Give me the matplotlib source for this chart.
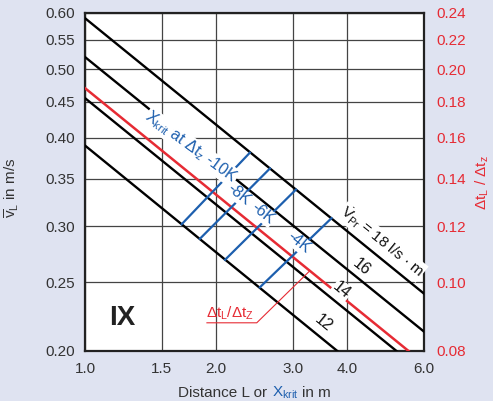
import math
import matplotlib
matplotlib.use("Agg")
import matplotlib.pyplot as plt
from matplotlib.ticker import FixedLocator, NullLocator, FormatStrFormatter

# flow-rate lines (l/s·m), v_L read at L = 1.0 m and L = 6.0 m
flow_labels = ["12", "14", "16", "18"]
v_at_1m = [0.39, 0.455, 0.52, 0.59]
v_at_6m = [0.159, 0.186, 0.213, 0.241]
line_L = [1.0, 6.0]

# red dt_L / dt_z line, same L ends
ratio_v = [0.47, 0.192]

# X_krit isolines: lower end on the 12 line, upper end on the 18 line
krit_labels = ["-10K", "-8K", "-6K", "-4K"]
krit_L_low = [1.667, 1.835, 2.096, 2.52]
krit_v_low = [0.302, 0.288, 0.269, 0.246]
krit_L_high = [2.39, 2.658, 3.05, 3.68]
krit_v_high = [0.381, 0.362, 0.338, 0.308]

x_ticks = [1.0, 1.5, 2.0, 3.0, 4.0, 6.0]
y_ticks = [0.20, 0.25, 0.30, 0.35, 0.40, 0.45, 0.50, 0.55, 0.60]
y2_ticks = [0.08, 0.10, 0.12, 0.14, 0.16, 0.18, 0.20, 0.22, 0.24]

BLUE = "#1d5fae"
RED = "#e62b34"
BG = "#dfe3f1"
INK = "#333333"

plt.rcParams["font.family"] = ["Liberation Sans", "DejaVu Sans"]
plt.rcParams["mathtext.default"] = "regular"

W, H = 493, 401
fig = plt.figure(figsize=(W / 100, H / 100), dpi=100, facecolor=BG)
ax = fig.add_axes([85 / W, 50 / H, 339 / W, 338 / H])
ax.set_xscale("log")
ax.set_yscale("log")
ax.set_xlim(1.0, 6.0)
ax.set_ylim(0.2, 0.6)

ax.xaxis.set_major_locator(FixedLocator(x_ticks))
ax.xaxis.set_minor_locator(NullLocator())
ax.xaxis.set_major_formatter(FormatStrFormatter("%.1f"))
ax.yaxis.set_major_locator(FixedLocator(y_ticks))
ax.yaxis.set_minor_locator(NullLocator())
ax.yaxis.set_major_formatter(FormatStrFormatter("%.2f"))
ax.tick_params(axis="both", length=0, labelsize=11, labelcolor=INK)
ax.tick_params(axis="x", pad=8)
ax.tick_params(axis="y", pad=7)
ax.grid(True, color="#444444", lw=0.9)
ax.set_axisbelow(True)
for sp in ax.spines.values():
    sp.set_linewidth(1.6)
    sp.set_color("#222222")

ax2 = ax.twinx()
ax2.set_yscale("log")
ax2.set_ylim(0.08, 0.24)
ax2.yaxis.set_major_locator(FixedLocator(y2_ticks))
ax2.yaxis.set_minor_locator(NullLocator())
ax2.yaxis.set_major_formatter(FormatStrFormatter("%.2f"))
ax2.tick_params(axis="y", length=0, labelsize=11, labelcolor=RED, pad=9)
for sp in ax2.spines.values():
    sp.set_visible(False)

for v1, v6 in zip(v_at_1m, v_at_6m):
    ax.plot(line_L, [v1, v6], color="black", lw=1.7, zorder=3)
ax.plot(line_L, ratio_v, color=RED, lw=1.8, zorder=3)
for xl, yl, xh, yh in zip(krit_L_low, krit_v_low, krit_L_high, krit_v_high):
    ax.plot([xl, xh], [yl, yh], color=BLUE, lw=1.6, zorder=3)

# slope of the lines on screen, for the rotated labels
p = ax.transData.transform([(line_L[0], v_at_1m[3]), (line_L[1], v_at_6m[3])])
ang = math.degrees(math.atan2(p[1, 1] - p[0, 1], p[1, 0] - p[0, 0]))
white = dict(facecolor="white", edgecolor="none", pad=0.5)

ax.text(1.75, 0.388, r"X$_{krit}$ at Δt$_z$ " + krit_labels[0], rotation=ang + 3,
        rotation_mode="anchor", ha="center", va="center", color=BLUE,
        fontsize=11.5, bbox=white, zorder=4)
for lab, x, y in zip(krit_labels[1:], [2.25, 2.56, 3.09], [0.3325, 0.3125, 0.2845]):
    ax.text(x, y, lab, rotation=ang, rotation_mode="anchor", ha="center", va="center",
            color=BLUE, fontsize=11.5, bbox=white, zorder=4)

ax.text(4.8, 0.2851, r"$\dot{V}_{Pr}$ = " + flow_labels[3] + " l/s · m", rotation=ang,
        rotation_mode="anchor", ha="center", va="center", fontsize=11,
        color="#111111", bbox=white, zorder=4)
ax.text(4.32, 0.2627, flow_labels[2], rotation=ang, rotation_mode="anchor",
        ha="center", va="center", fontsize=11.5, color="#111111", zorder=4)
ax.text(3.89, 0.2438, flow_labels[1], rotation=ang, rotation_mode="anchor",
        ha="center", va="center", fontsize=11.5, color="#111111", bbox=white, zorder=4)
ax.text(3.52, 0.219, flow_labels[0], rotation=ang, rotation_mode="anchor",
        ha="center", va="center", fontsize=11.5, color="#111111", zorder=4)

ax.text(0.109, 0.0976, "IX", transform=ax.transAxes, fontsize=20, fontweight="bold",
        ha="center", va="center", color="#222222")

# red callout for the ratio line
ax.text(2.146, 0.2262, r"Δt$_L$/Δt$_Z$", color=RED, fontsize=11, ha="center", va="center")
ax.plot([1.905, 2.479, 3.28], [0.2192, 0.2192, 0.2595], color=RED, lw=0.8, zorder=3)

# axis titles
fig.text(12 / W, 1 - 188 / H, r"$\overline{v}_L$ in m/s", rotation=90, ha="center",
         va="center", fontsize=11, color=INK)
fig.text(482 / W, 1 - 183 / H, r"Δt$_L$ / Δt$_z$", rotation=90, ha="center",
         va="center", fontsize=11, color=RED)

# x title with the blue X_krit part
fig.canvas.draw()
rend = fig.canvas.get_renderer()


def text_width(s):
    t = fig.text(0, 0, s, fontsize=11)
    w = t.get_window_extent(rend).width
    t.remove()
    return w


off2 = text_width("Distance L or X") - text_width("X")
off3 = off2 + text_width(r"X$_{krit}$ in") - text_width("in")
total = off3 + text_width("in m")
x0 = 254.5 - total / 2
yb = (H - 397) / H
fig.text(x0 / W, yb, "Distance L or", fontsize=11, color=INK, va="baseline")
fig.text((x0 + off2) / W, yb, r"X$_{krit}$", fontsize=11, color=BLUE, va="baseline")
fig.text((x0 + off3) / W, yb, "in m", fontsize=11, color=INK, va="baseline")

fig.savefig("out.png", dpi=100, facecolor=BG)
